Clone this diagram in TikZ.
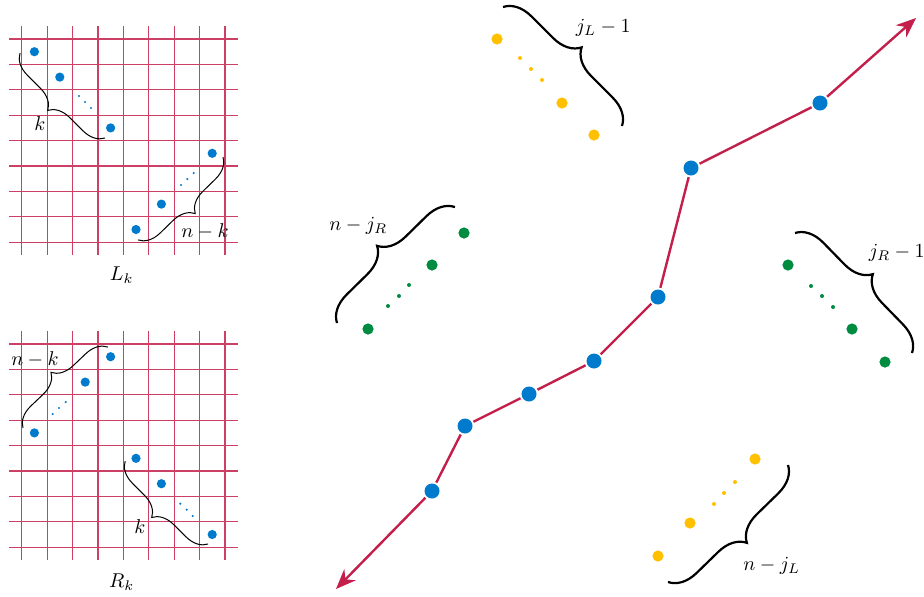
\documentclass[tikz,border=0pt]{standalone}
\usetikzlibrary{arrows.meta,decorations.pathreplacing}
\definecolor{dotblue}{RGB}{0,122,204}
\definecolor{linered}{RGB}{196,30,74}
\definecolor{dotyellow}{RGB}{255,192,0}
\definecolor{dotgreen}{RGB}{0,140,64}
\begin{document}
\begin{tikzpicture}[x=0.5pt, y=-0.5pt,
  gridline/.style={draw=linered!85, line width=0.6pt},
  bdot/.style={circle, fill=dotblue, inner sep=0pt, minimum size=4.6pt},
  bsmall/.style={circle, fill=dotblue, inner sep=0pt, minimum size=1.2pt},
  pdot/.style={circle, fill=dotblue, inner sep=0pt, minimum size=7.5pt, outer sep=1pt},
  ydot/.style={circle, fill=dotyellow, inner sep=0pt, minimum size=5.6pt},
  ysmall/.style={circle, fill=dotyellow, inner sep=0pt, minimum size=2pt},
  gdot/.style={circle, fill=dotgreen, inner sep=0pt, minimum size=5.6pt},
  gsmall/.style={circle, fill=dotgreen, inner sep=0pt, minimum size=2pt},
  thinbrace/.style={draw, decorate, decoration={brace, amplitude=10.5pt}, line width=0.5pt},
  thickbrace/.style={draw, decorate, decoration={brace, amplitude=13.5pt}, line width=1.1pt},
  redpath/.style={draw=linered, line width=1.2pt}
]
  \useasboundingbox (0,0) rectangle (924,596);

  % the two grids
  \foreach \oy in {39,344} {
    \foreach \i in {0,...,8} {
      \draw[gridline] (21.7+25.4*\i, \oy-12.7) -- (21.7+25.4*\i, \oy+215.9);
      \draw[gridline] (9, \oy+25.4*\i) -- (237.6, \oy+25.4*\i);
    }
  }

  % L_k
  \node[bdot] (l1) at (34.4,51.7) {};
  \node[bdot] (l2) at (59.8,77.1) {};
  \node[bdot] (l3) at (110.6,127.9) {};
  \node[bdot] (l4) at (136,229.5) {};
  \node[bdot] (l5) at (161.4,204.1) {};
  \node[bdot] (l6) at (212.2,153.3) {};
  \node[bsmall] (la1) at (79,96) {};
  \node[bsmall] (la2) at (85,102) {};
  \node[bsmall] (la3) at (91,108) {};
  \node[bsmall] (lb1) at (181,185) {};
  \node[bsmall] (lb2) at (187.3,179) {};
  \node[bsmall] (lb3) at (193.7,173) {};
  \draw[thinbrace] (105,138) -- (20,53);
  \draw[thinbrace] (223,157) -- (138,240);
  \node (lk) at (40,123.3) {$k$};
  \node (lnk) at (205,231.7) {$n-k$};
  \node (Lk) at (121.7,275) {$L_k$};

  % R_k
  \node[bdot] (r1) at (110.6,356.7) {};
  \node[bdot] (r2) at (85.2,382.1) {};
  \node[bdot] (r3) at (34.4,432.9) {};
  \node[bdot] (r4) at (136,458.3) {};
  \node[bdot] (r5) at (161.4,483.7) {};
  \node[bdot] (r6) at (212.2,534.5) {};
  \node[bsmall] (ra1) at (52.7,414) {};
  \node[bsmall] (ra2) at (59,408) {};
  \node[bsmall] (ra3) at (65.7,402) {};
  \node[bsmall] (rb1) at (180.3,503.7) {};
  \node[bsmall] (rb2) at (186.7,509.7) {};
  \node[bsmall] (rb3) at (192.7,516) {};
  \draw[thinbrace] (23,428) -- (108,347);
  \draw[thinbrace] (208,544) -- (125,461);
  \node (rnk) at (35,359.3) {$n-k$};
  \node (rk) at (140,526.7) {$k$};
  \node (Rk) at (121.7,581.7) {$R_k$};

  % the path
  \node[pdot] (p1) at (432,491) {};
  \node[pdot] (p2) at (465,426) {};
  \node[pdot] (p3) at (529,394) {};
  \node[pdot] (p4) at (594,361) {};
  \node[pdot] (p5) at (658,297) {};
  \node[pdot] (p6) at (691,168) {};
  \node[pdot] (p7) at (820,103) {};
  \coordinate (a0) at (336,589);
  \coordinate (a1) at (916,18);
  \draw[redpath] (p1) -- (p2) (p2) -- (p3) (p3) -- (p4) (p4) -- (p5) (p5) -- (p6) (p6) -- (p7);
  \draw[redpath, -{Stealth[length=10pt, width=8pt]}] (p1) -- (a0);
  \draw[redpath, -{Stealth[length=10pt, width=8pt]}] (p7) -- (a1);

  % yellow points
  \node[ydot] (y1) at (497,39) {};
  \node[ysmall] (ya1) at (520,58) {};
  \node[ysmall] (ya2) at (531,69) {};
  \node[ysmall] (ya3) at (542,80) {};
  \node[ydot] (y2) at (562,103) {};
  \node[ydot] (y3) at (594,135) {};
  \node[ydot] (y4) at (658,556) {};
  \node[ydot] (y5) at (690,523) {};
  \node[ysmall] (yb1) at (714,504) {};
  \node[ysmall] (yb2) at (724,493) {};
  \node[ysmall] (yb3) at (735,482) {};
  \node[ydot] (y6) at (755,459) {};

  % green points
  \node[gdot] (g1) at (368,329) {};
  \node[gsmall] (ga1) at (388,306) {};
  \node[gsmall] (ga2) at (399,296) {};
  \node[gsmall] (ga3) at (409,285) {};
  \node[gdot] (g2) at (432,265) {};
  \node[gdot] (g3) at (464,233) {};
  \node[gdot] (g4) at (788,265) {};
  \node[gsmall] (gb1) at (811,286) {};
  \node[gsmall] (gb2) at (822,296) {};
  \node[gsmall] (gb3) at (833,307) {};
  \node[gdot] (g5) at (852,329) {};
  \node[gdot] (g6) at (885,362) {};

  % braces
  \draw[thickbrace] (503,7) -- (622,126);
  \draw[thickbrace] (337,323) -- (455,207);
  \draw[thickbrace] (795,233) -- (912,353);
  \draw[thickbrace] (788,465) -- (668,582);
  \node (jl) at (603.3,28.3) {$j_L-1$};
  \node (njr) at (358.3,226) {$n-j_R$};
  \node (jr) at (896.7,253.3) {$j_R-1$};
  \node (njl) at (771.7,566) {$n-j_L$};
\end{tikzpicture}
\end{document}
